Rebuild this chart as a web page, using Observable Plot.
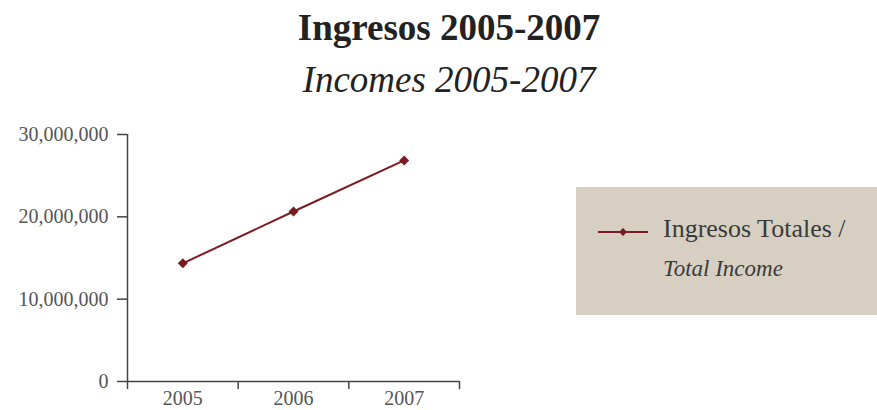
<!DOCTYPE html>
<html>
<head>
<meta charset="utf-8">
<script src="https://cdn.jsdelivr.net/npm/d3@7"></script>
<script src="https://cdn.jsdelivr.net/npm/@observablehq/plot@0.6"></script>
<style>
  html, body { margin: 0; padding: 0; background: #fff; width: 877px; height: 410px; overflow: hidden; }
  body { position: relative; font-family: "Liberation Serif", "DejaVu Serif", serif; }
  .t1, .t2 { position: absolute; left: 0; width: 898px; text-align: center; color: #222; font-size: 37px; line-height: 37px; white-space: nowrap; }
  .t1 { top: 9px; font-weight: bold; }
  .t2 { top: 61px; font-style: italic; }
  #chart { position: absolute; left: 0; top: 120px; }
  .legend { position: absolute; left: 576px; top: 187px; width: 301px; height: 128px; background: #d7d0c2; }
  .legend svg { position: absolute; left: 22px; top: 40px; }
  .lg1 { position: absolute; left: 87px; top: 29px; font-size: 26px; line-height: 26px; color: #3a3a3a; white-space: nowrap; }
  .lg2 { position: absolute; left: 87px; top: 70px; font-size: 23px; line-height: 23px; color: #3a3a3a; font-style: italic; white-space: nowrap; }
</style>
</head>
<body>
<div class="t1">Ingresos 2005-2007</div>
<div class="t2">Incomes 2005-2007</div>
<div id="chart"></div>
<div class="legend">
  <svg width="50" height="10"><line x1="0" y1="5" x2="50" y2="5" stroke="#7a1b1f" stroke-width="2"/><path d="M25,1 L29,5 L25,9 L21,5 Z" fill="#7a1b1f"/></svg>
  <div class="lg1">Ingresos Totales /</div>
  <div class="lg2">Total Income</div>
</div>
<script>
const years = [2005, 2006, 2007];
const income = [14350000, 20650000, 26850000];
const xDomain = [2004.5, 2007.5];
const xBoundaries = [2004.5, 2005.5, 2006.5, 2007.5];
const yTicks = [0, 10000000, 20000000, 30000000];
const seriesColor = "#7a1b1f";

const data = years.map((y, i) => ({year: y, value: income[i]}));

const plot = Plot.plot({
  width: 470,
  height: 290,
  marginLeft: 127,
  marginRight: 11,
  marginTop: 14,
  marginBottom: 29,
  style: {fontFamily: "'Liberation Serif', serif", fontSize: "20px", color: "#555", background: "transparent"},
  x: {domain: xDomain},
  y: {domain: [0, 30000000]},
  marks: [
    Plot.axisY({ticks: yTicks, tickFormat: d3.format(","), tickSize: 10, tickPadding: 9, stroke: "#444", strokeWidth: 1.5, fill: "#555", label: null}),
    Plot.axisX({ticks: xBoundaries, tickFormat: () => "", tickSize: 8, stroke: "#444", strokeWidth: 1.5, label: null}),
    Plot.axisX({ticks: years, tickFormat: d => String(d), tickSize: 0, tickPadding: 9, fill: "#555", label: null}),
    Plot.ruleX([xDomain[0]], {stroke: "#444", strokeWidth: 1.5}),
    Plot.ruleY([0], {stroke: "#444", strokeWidth: 1.5}),
    Plot.line(data, {x: "year", y: "value", stroke: seriesColor, strokeWidth: 2}),
    Plot.dot(data, {x: "year", y: "value", symbol: "diamond2", r: 4.5, fill: seriesColor, stroke: "none"})
  ]
});
document.getElementById("chart").appendChild(plot);
</script>
</body>
</html>
